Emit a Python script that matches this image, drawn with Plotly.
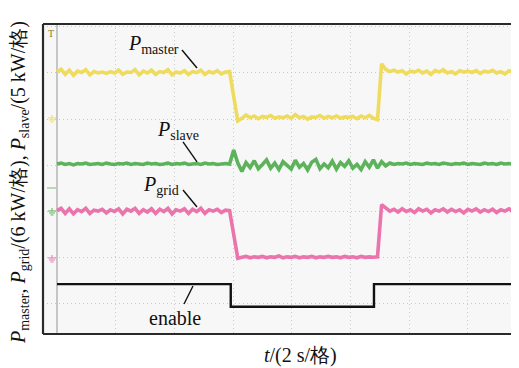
import plotly.graph_objects as go

# ---- data (divisions on the scope screen) ----
master_y = [6.02, 6.08, 5.97, 6.06, 5.95, 6.04, 6.01, 6.07, 5.96, 6.03, 6.00, 6.02, 5.99, 6.03, 6.00,
            6.06, 5.97, 6.02, 6.01, 6.07, 5.96, 6.04, 6.00, 6.06, 5.97, 6.03, 6.01, 6.07, 5.96, 6.02,
            6.00, 6.05, 5.97, 6.03, 6.01, 6.06, 5.97, 6.03, 6.00, 6.05, 5.98, 6.02, 6.03,
            5.50, 4.96,
            5.02, 5.09, 5.03, 5.07, 5.01, 5.06, 5.04, 5.08, 5.02, 5.05, 5.03, 5.07, 5.02, 5.10, 5.03,
            5.06, 5.00, 5.05, 5.04, 5.08, 5.02, 5.06, 5.03, 5.07, 5.02, 5.05, 5.04, 5.06, 5.01, 5.07,
            5.03, 5.08, 5.02,
            4.99, 6.20,
            6.08, 6.03, 6.06, 6.02, 6.05, 5.98, 6.04, 6.02, 6.06, 6.00, 6.04, 5.97, 6.05, 6.02, 6.07,
            6.00, 6.03, 5.98, 6.05, 6.02, 6.04, 6.01, 6.05, 5.99, 6.04, 6.02, 6.06, 6.00, 6.03, 5.98,
            6.05, 6.02, 6.04]

slave_y = [4.03, 4.05, 4.02, 4.04, 4.01, 4.04, 4.03, 4.05, 4.02, 4.03, 4.04, 4.02, 4.05, 4.03, 4.02,
           4.04, 4.03, 4.05, 4.02, 4.04, 4.03, 4.02, 4.05, 4.03, 4.04, 4.02, 4.03, 4.05, 4.02, 4.04,
           4.03, 4.05, 4.02, 4.03, 4.04, 4.02, 4.05, 4.03, 4.04, 4.02, 4.03, 4.04, 4.03,
           4.33, 4.05, 3.87,
           4.06, 3.95, 4.10, 3.93, 4.02, 4.12, 3.94, 4.05, 3.91, 4.08, 4.00, 3.92, 4.11, 3.96, 4.04,
           3.90, 4.07, 4.13, 3.93, 4.03, 3.95, 4.09, 3.92, 4.06, 3.98, 4.10, 3.94, 4.02, 3.91, 4.08,
           3.96, 4.12, 3.94,
           4.08, 3.99, 4.05, 4.02, 4.04, 4.03, 4.05, 4.02, 4.04, 4.03, 4.02, 4.05, 4.03, 4.04, 4.02,
           4.05, 4.03, 4.02, 4.04, 4.03, 4.05, 4.02, 4.04, 4.03, 4.02, 4.05, 4.03, 4.04, 4.02, 4.05,
           4.03, 4.04, 4.02, 4.03]

grid_y = [3.02, 3.07, 2.96, 3.06, 2.95, 3.04, 3.00, 3.07, 2.96, 3.03, 3.01, 3.05, 2.97, 3.04, 3.00,
          3.06, 2.95, 3.05, 3.01, 3.07, 2.96, 3.04, 2.99, 3.06, 2.96, 3.05, 3.00, 3.07, 2.95, 3.04,
          3.01, 3.06, 2.96, 3.05, 3.00, 3.07, 2.96, 3.04, 3.01, 3.05, 2.98, 3.03, 3.02,
          2.50, 1.99,
          2.01, 2.03, 2.00, 2.02, 2.01, 2.03, 2.00, 2.02, 2.01, 2.04, 2.00, 2.02, 2.01, 2.03, 2.00,
          2.02, 2.01, 2.03, 2.00, 2.02, 2.01, 2.03, 2.01, 2.02, 2.00, 2.03, 2.01, 2.02, 2.00, 2.03,
          2.01, 2.02, 2.01,
          2.02, 3.15,
          3.07, 3.01, 3.05, 2.99, 3.06, 3.00, 3.04, 2.98, 3.06, 3.01, 3.05, 2.97, 3.04, 3.01, 3.06,
          2.99, 3.05, 3.00, 3.04, 2.97, 3.05, 3.01, 3.06, 2.99, 3.04, 3.00, 3.05, 2.98, 3.04, 3.01,
          3.06, 2.99, 3.03]

enable_t = [0.0, 2.96, 2.96, 5.40, 5.40, 7.87]
enable_y = [1.43, 1.43, 0.94, 0.94, 1.43, 1.43]

sample_dt = 0.07  # divisions per sample


def times(n):
    return [round(sample_dt * i, 2) for i in range(n)]


FONT = "Liberation Serif"
YELLOW = "#efdc5e"
GREEN = "#5db35b"
PINK = "#eb74ac"

OFF = 8  # page body margin
PL, PT, PB = 43, 24, 334  # plot-area edges in page pixels


def xd(px):
    return (px - 57) / 58.7


def yd(py):
    return 1 + (304 - py) / 46.2


fig = go.Figure()
fig.add_trace(go.Scatter(x=times(len(master_y)), y=master_y, mode="lines",
                         line=dict(color=YELLOW, width=3.6), hoverinfo="skip"))
fig.add_trace(go.Scatter(x=times(len(slave_y)), y=slave_y, mode="lines",
                         line=dict(color=GREEN, width=3.6), hoverinfo="skip"))
fig.add_trace(go.Scatter(x=times(len(grid_y)), y=grid_y, mode="lines",
                         line=dict(color=PINK, width=3.6), hoverinfo="skip"))
fig.add_trace(go.Scatter(x=enable_t, y=enable_y, mode="lines",
                         line=dict(color="#111111", width=2.4), hoverinfo="skip"))

shapes = []
shapes.append(dict(type="line", xref="x", yref="paper", x0=0, x1=0, y0=0, y1=1,
                   line=dict(color="#b5b5b5", width=1.5), layer="below"))
for (x0, y0, x1, y1) in [(0, 0, 0, 1), (0, 1, 1, 1), (0, 0, 1, 0)]:
    shapes.append(dict(type="line", xref="paper", yref="paper", x0=x0, y0=y0, x1=x1, y1=y1,
                       line=dict(color="#2a2a2a", width=2.2)))
for (a, b, c, d) in [(182, 50, 197, 68), (183, 142, 197, 162), (183, 190, 197, 207), (193, 286, 184, 304)]:
    shapes.append(dict(type="line", xref="x", yref="y", x0=xd(a), y0=yd(b), x1=xd(c), y1=yd(d),
                       line=dict(color="#111111", width=1.4)))


def ground(py, color):
    out = [dict(type="line", xref="x", yref="y", x0=xd(52), x1=xd(52), y0=yd(py - 3), y1=yd(py),
                line=dict(color=color, width=1))]
    for w, dy in [(8, 0), (6, 2), (3, 4)]:
        out.append(dict(type="line", xref="x", yref="y", x0=xd(52 - w / 2), x1=xd(52 + w / 2),
                        y0=yd(py + dy), y1=yd(py + dy), line=dict(color=color, width=1)))
    return out


shapes += ground(118, YELLOW)
shapes += ground(211, GREEN)
shapes += ground(258, PINK)
shapes.append(dict(type="line", xref="x", yref="y", x0=xd(47), x1=xd(56), y0=yd(188), y1=yd(188),
                   line=dict(color="#9fd39d", width=1.5)))

txt = dict(family=FONT, size=20, color="#111")
ann = [
    dict(x=xd(126), y=yd(45), xref="x", yref="y", xanchor="left", yanchor="middle",
         text="<i>P</i><sub>master</sub>", showarrow=False, font=txt),
    dict(x=xd(155), y=yd(131), xref="x", yref="y", xanchor="left", yanchor="middle",
         text="<i>P</i><sub>slave</sub>", showarrow=False, font=txt),
    dict(x=xd(141), y=yd(186), xref="x", yref="y", xanchor="left", yanchor="middle",
         text="<i>P</i><sub>grid</sub>", showarrow=False, font=txt),
    dict(x=xd(175), y=yd(318), xref="x", yref="y", xanchor="center", yanchor="middle",
         text="enable", showarrow=False, font=txt),
    dict(x=xd(51), y=yd(34), xref="x", yref="y", xanchor="center", yanchor="middle",
         text="T", showarrow=False, font=dict(family=FONT, size=10, color="#8a7a20")),
    dict(x=(300 - PL) / 476, y=(PB - 355) / 310, xref="paper", yref="paper",
         xanchor="center", yanchor="middle", text="<i>t</i>/(2 s/格)", showarrow=False, font=txt),
    dict(x=(19 - PL) / 476, y=(PB - 183) / 310, xref="paper", yref="paper",
         xanchor="center", yanchor="middle", textangle=-90,
         text="<i>P</i><sub>master</sub>, <i>P</i><sub>grid</sub>/(6 kW/格), <i>P</i><sub>slave</sub>/(5 kW/格)",
         showarrow=False, font=txt),
]

fig.update_layout(
    width=519 - OFF, height=368 - OFF,
    margin=dict(l=PL - OFF, r=0, t=PT - OFF, b=368 - PB),
    paper_bgcolor="white", plot_bgcolor="#f7f7f7",
    font=dict(family=FONT),
    showlegend=False,
    shapes=shapes, annotations=ann,
    xaxis=dict(range=[-0.2385, 7.8705], dtick=1, tick0=0, showticklabels=False, ticks="",
               showgrid=True, gridcolor="#c9c9c9", griddash="1px,3px", gridwidth=1, zeroline=False,
               showline=False, fixedrange=True),
    yaxis=dict(range=[0.35, 7.06], dtick=1, tick0=0, showticklabels=False, ticks="",
               showgrid=True, gridcolor="#c9c9c9", griddash="1px,3px", gridwidth=1, zeroline=False,
               showline=False, fixedrange=True),
)

fig.write_html("out.html", config={"displayModeBar": False})
